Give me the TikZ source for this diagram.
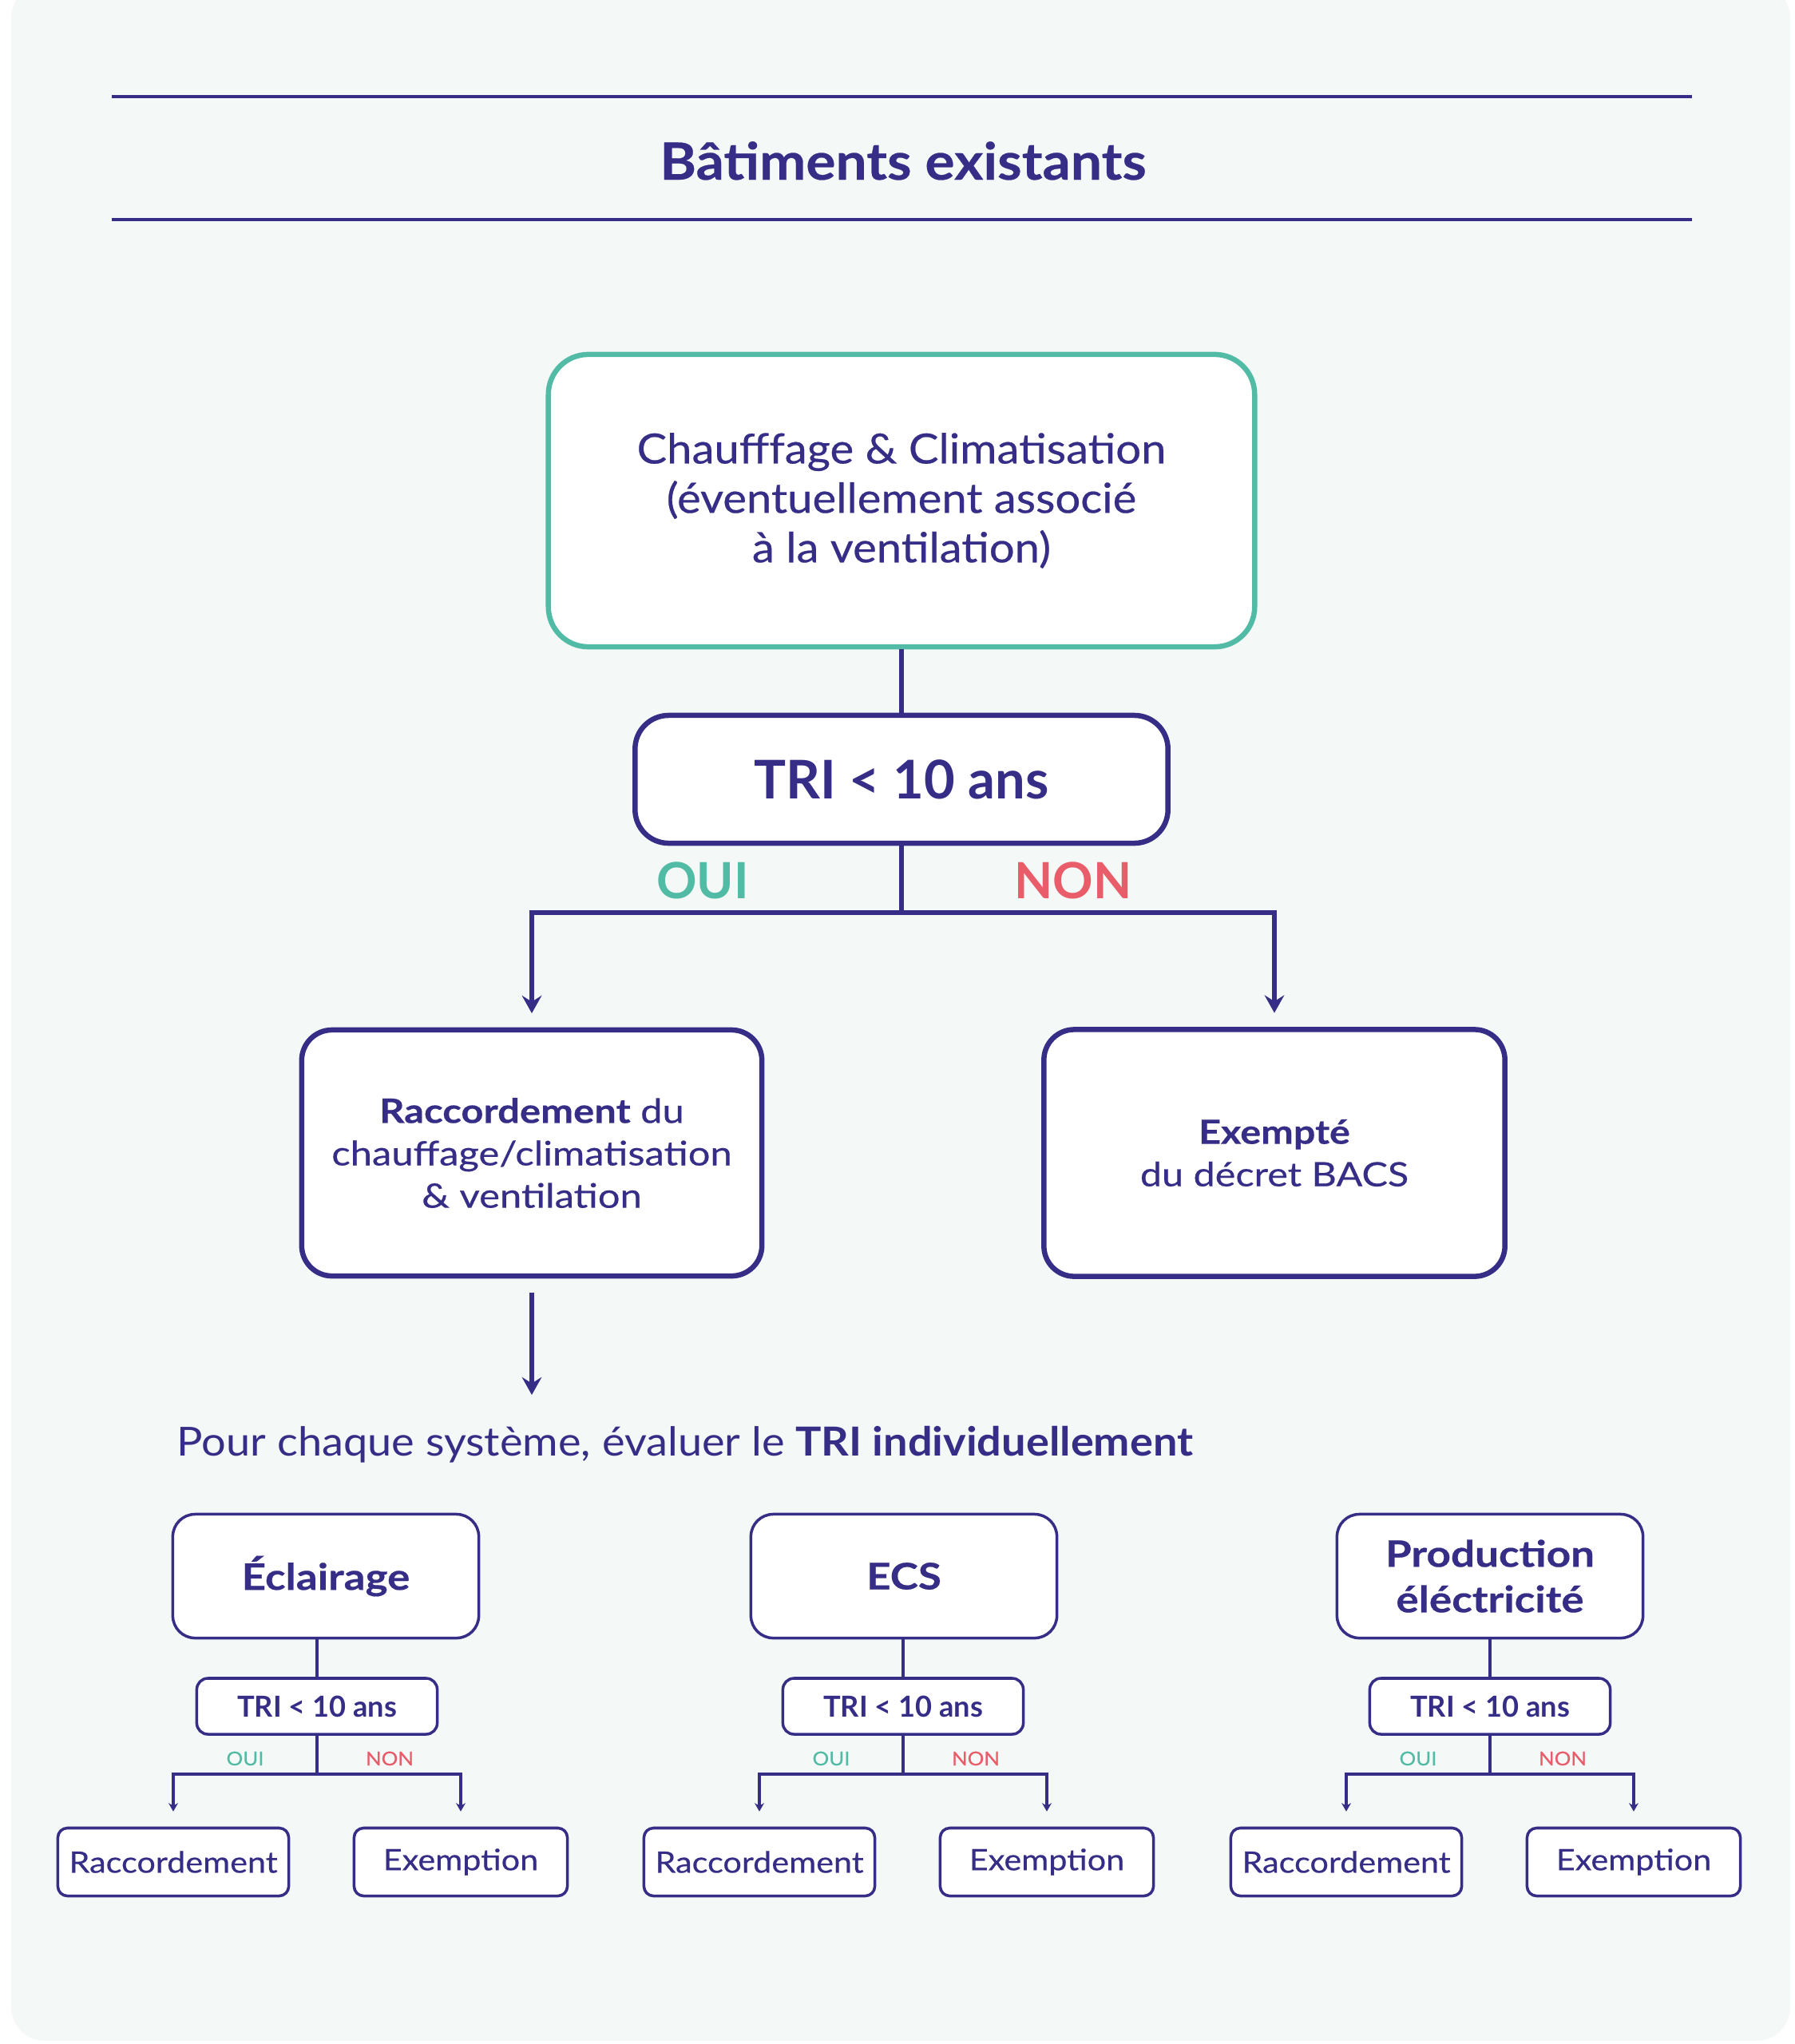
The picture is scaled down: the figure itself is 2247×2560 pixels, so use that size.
\documentclass[tikz,border=0pt]{standalone}
\usepackage{fontspec}
\setmainfont{Lato}
\newfontfamily\fA[FakeStretch=1.08,FakeBold=0.4]{Lato}
\newfontfamily\fB[FakeStretch=1.12,FakeBold=0.4]{Lato}
\newfontfamily\fC[FakeStretch=1.16,FakeBold=0.4]{Lato}
\newfontfamily\fP[FakeStretch=1.08]{Lato}
\usetikzlibrary{arrows.meta}
\definecolor{navy}{RGB}{53,45,134}
\definecolor{teal}{RGB}{82,187,165}
\definecolor{rouge}{RGB}{233,92,106}
\definecolor{bgc}{RGB}{244,248,247}
\begin{document}
\begin{tikzpicture}[x=0.01cm,y=-0.01cm,
  bigbox/.style={draw=navy, fill=white, line width=1.85pt, rounded corners=0.38cm, align=center, text=navy, inner sep=0pt},
  sysbox/.style={draw=navy, fill=white, line width=1pt, rounded corners=0.28cm, align=center, text=navy, inner sep=0pt,
    minimum width=3.83cm, minimum height=1.55cm, font=\fC\bfseries\fontsize{13}{16.2}\selectfont},
  tribox/.style={draw=navy, fill=white, line width=1pt, rounded corners=0.14cm, text=navy, inner sep=0pt,
    minimum width=3.01cm, minimum height=0.70cm, font=\bfseries\fontsize{10.3}{12}\selectfont},
  leafbox/.style={draw=navy, fill=white, line width=1pt, rounded corners=0.12cm, text=navy, inner sep=0pt,
    minimum height=0.85cm, font=\fB\fontsize{10.5}{12}\selectfont},
  bigline/.style={draw=navy, line width=1.7pt},
  bigarr/.style={bigline, -{Stealth[length=6.3pt,width=7pt,inset=2.2pt]}},
  smallline/.style={draw=navy, line width=0.9pt},
  smallarr/.style={smallline, -{Stealth[length=3pt,width=3.4pt,inset=1pt]}, shorten >=5.4pt},
  biglab/.style={anchor=base, inner sep=0pt, font=\bfseries\fontsize{17.8}{20}\selectfont},
  smalllab/.style={anchor=base, inner sep=0pt, font=\fA\fontsize{6.8}{8}\selectfont}
]
\useasboundingbox (0,0) rectangle (2247,2560);
\fill[white] (0,0) rectangle (2247,2560);
\fill[bgc, rounded corners=12pt] (14,-20) rectangle (2242,2556);

% header
\coordinate (h1a) at (140,121); \coordinate (h1b) at (2119,121);
\coordinate (h2a) at (140,275); \coordinate (h2b) at (2119,275);
\draw[navy, line width=1.15pt] (h1a) -- (h1b);
\draw[navy, line width=1.15pt] (h2a) -- (h2b);
\node[anchor=base, inner sep=0pt, text=navy, font=\fA\bfseries\fontsize{18.3}{20}\selectfont] (title) at (1131,225) {Bâtiments existants};

% top
\node[bigbox, draw=teal, minimum width=8.84cm, minimum height=3.66cm, rounded corners=0.5cm,
  font=\fA\fontsize{14.8}{17.6}\selectfont] (top) at (1129,627)
  {Chaufffage \& Climatisation\\(éventuellement associé\\à la ventilation)};
\node[bigbox, minimum width=6.67cm, minimum height=1.60cm, rounded corners=0.42cm,
  font=\bfseries\fontsize{19}{22}\selectfont] (tri) at (1129,976) {TRI < 10 ans};
\draw[bigline] (top.south) -- (tri.north);

\node[bigbox, minimum width=5.76cm, minimum height=3.08cm, font=\fC\fontsize{12}{15.1}\selectfont] (lbox) at (666,1444)
  {\textbf{Raccordement} du\\chauffage/climatisation\\\& ventilation};
\node[bigbox, minimum width=5.77cm, minimum height=3.09cm, font=\fC\fontsize{11.9}{15.1}\selectfont] (rbox) at (1596,1444)
  {\textbf{Exempté}\\du décret BACS};

\coordinate (j) at (1129,1143);
\draw[bigarr, shorten >=5pt] (tri.south) -- (j) -| (lbox.north);
\draw[bigarr, shorten >=5pt] (tri.south) -- (j) -| (rbox.north);
\node[biglab, text=teal] (oui) at (880,1125) {OUI};
\node[biglab, text=rouge] (non) at (1344,1125) {NON};

\coordinate (pend) at (666,1747);
\draw[bigarr, shorten <=5pt] (lbox.south) -- (pend);

\node[anchor=base west, inner sep=0pt, text=navy, font=\fP\fontsize{14.25}{16}\selectfont] (pour) at (221,1823)
  {Pour chaque système, évaluer le \textbf{TRI individuellement}};

% modules
\foreach \i/\x/\bx/\lab in {1/397/408/{Éclairage}, 2/1131/1132/{ECS}, 3/1866/1866/{Production\\éléctricité}} {
  \node[sysbox] (s\i) at (\bx,1974) {\lab};
  \node[tribox] (t\i) at (\x,2137) {TRI < 10 ans};
  \coordinate (j\i) at (\x,2222);
  \node[leafbox, minimum width=2.89cm] (r\i) at (\x-180,2332) {Raccordement};
  \node[leafbox, minimum width=2.67cm] (e\i) at (\x+180,2332) {Exemption};
  \draw[smallline] (t\i.north |- s\i.south) -- (t\i.north);
  \draw[smallarr] (t\i.south) -- (j\i) -| (r\i.north);
  \draw[smallarr] (t\i.south) -- (j\i) -| (e\i.north);
  \node[smalllab, text=teal] (o\i) at (\x-90,2211) {OUI};
  \node[smalllab, text=rouge] (n\i) at (\x+91,2211) {NON};
}
\end{tikzpicture}
\end{document}
